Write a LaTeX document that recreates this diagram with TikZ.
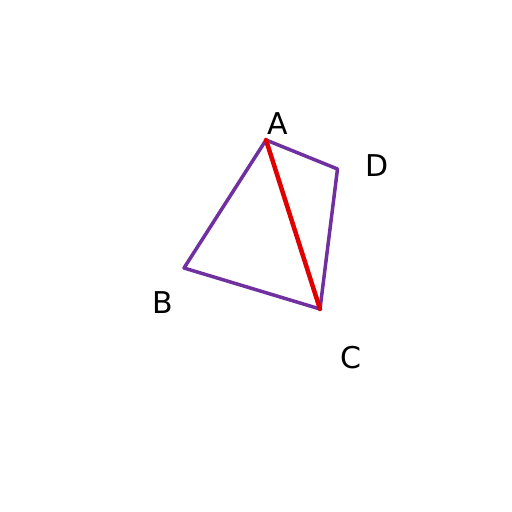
\documentclass[tikz,border=0pt]{standalone}
\usepackage{fontspec}
\setmainfont{DejaVu Sans}
\definecolor{edgepurple}{RGB}{112,48,160}
\definecolor{diagred}{RGB}{224,0,0}
\begin{document}
\begin{tikzpicture}[x=1pt,y=-1pt,
  lbl/.style={font=\fontsize{30}{30}\selectfont, inner sep=0pt, anchor=base},
  edge/.style={draw=edgepurple, line width=3.5pt, line join=round, line cap=round},
  diag/.style={draw=diagred, line width=4.5pt, line cap=round}]
\useasboundingbox (0,0) rectangle (512,512);
\coordinate (A) at (266,140);
\coordinate (D) at (337.5,169);
\coordinate (C) at (320,309);
\coordinate (B) at (184,268);
\draw[edge] (A) -- (D) -- (C) -- (B) -- cycle;
\draw[diag] (A) -- (C);
\node[lbl] (lA) at (278,134.3) {A};
\node[lbl] (lD) at (376.7,176) {D};
\node[lbl] (lB) at (163,313.3) {B};
\node[lbl] (lC) at (351,368.3) {C};
\end{tikzpicture}
\end{document}
